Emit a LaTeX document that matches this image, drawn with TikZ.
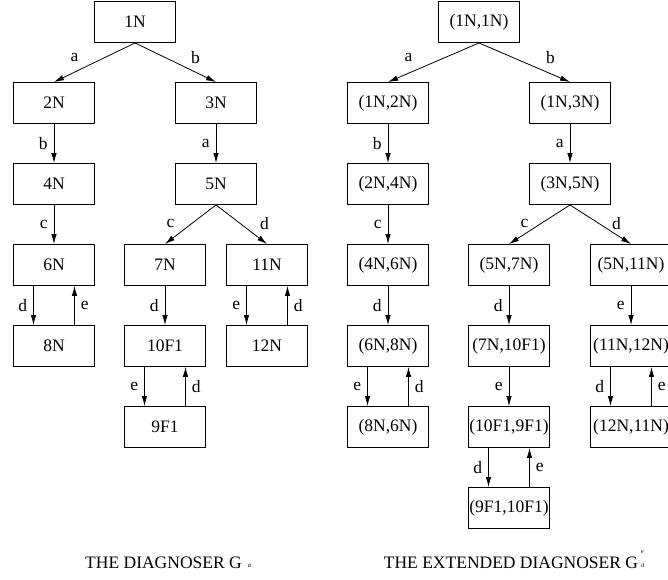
\documentclass[tikz,border=0pt]{standalone}
\usepackage{fontspec}
\setmainfont{Liberation Serif}
\usetikzlibrary{arrows.meta}
\newcommand{\tinyidx}[1]{{\fontsize{6}{6}\selectfont #1}}
\begin{document}
\begin{tikzpicture}[x=1pt,y=-1pt,
  every node/.style={font=\fontsize{17.5}{20}\selectfont},
  state/.style={draw,line width=0.9pt,minimum width=81pt,minimum height=41pt,inner sep=0pt},
  edge/.style={line width=0.8pt,-{Latex[length=10pt,width=5.5pt]}},
  lab/.style={inner sep=0pt},
  caption/.style={font=\fontsize{17.5}{20}\selectfont,anchor=base}]
\useasboundingbox (0,0) rectangle (668,579);

% ---- the diagnoser ----
\node[state] (n1)  at (135,22)  {1N};
\node[state] (n2)  at (54,103)  {2N};
\node[state] (n3)  at (216,103) {3N};
\node[state] (n4)  at (54,184)  {4N};
\node[state] (n5)  at (216,184) {5N};
\node[state] (n6)  at (54,265)  {6N};
\node[state] (n7)  at (165,265) {7N};
\node[state] (n11) at (267,265) {11N};
\node[state] (n8)  at (54,346)  {8N};
\node[state] (n10) at (165,346) {10F1};
\node[state] (n12) at (267,346) {12N};
\node[state] (n9)  at (165,427) {9F1};

\draw[edge] (n1.south) -- node[lab,midway,xshift=-20pt,yshift=5pt]{a} (n2.north);
\draw[edge] (n1.south) -- node[lab,midway,xshift=20pt,yshift=5pt]{b} (n3.north);
\draw[edge] (n2) -- node[lab,midway,left=6pt]{b} (n4);
\draw[edge] (n3) -- node[lab,midway,left=6pt]{a} (n5);
\draw[edge] (n4) -- node[lab,midway,left=6pt]{c} (n6);
\draw[edge] (n5.south) -- node[lab,midway,xshift=-20pt,yshift=1pt]{c} (n7.north);
\draw[edge] (n5.south) -- node[lab,midway,xshift=23pt,yshift=1pt]{d} (n11.north);
\draw[edge] ([xshift=-20.5pt]n6.south) -- node[lab,midway,left=6pt]{d} ([xshift=-20.5pt]n8.north);
\draw[edge] ([xshift=20.5pt]n8.north) -- node[lab,midway,right=6pt]{e} ([xshift=20.5pt]n6.south);
\draw[edge] (n7) -- node[lab,midway,left=6pt]{d} (n10);
\draw[edge] ([xshift=-20.5pt]n11.south) -- node[lab,midway,left=6pt]{e} ([xshift=-20.5pt]n12.north);
\draw[edge] ([xshift=20.5pt]n12.north) -- node[lab,midway,right=6pt]{d} ([xshift=20.5pt]n11.south);
\draw[edge] ([xshift=-20.5pt]n10.south) -- node[lab,midway,left=6pt]{e} ([xshift=-20.5pt]n9.north);
\draw[edge] ([xshift=20.5pt]n9.north) -- node[lab,midway,right=6pt]{d} ([xshift=20.5pt]n10.south);

\node[caption] (cap1) at (168,568) {THE DIAGNOSER G\hspace{6pt}\raisebox{0.5pt}{\tinyidx{d}}};

% ---- the extended diagnoser ----
\node[state] (r11)   at (479,22)  {(1N,1N)};
\node[state] (r12)   at (388,103) {(1N,2N)};
\node[state] (r13)   at (570,103) {(1N,3N)};
\node[state] (r24)   at (388,184) {(2N,4N)};
\node[state] (r35)   at (570,184) {(3N,5N)};
\node[state] (r46)   at (388,265) {(4N,6N)};
\node[state] (r57)   at (509,265) {(5N,7N)};
\node[state] (r511)  at (631,265) {(5N,11N)};
\node[state] (r68)   at (388,346) {(6N,8N)};
\node[state] (r710)  at (509,346) {(7N,10F1)};
\node[state] (r1112) at (631,346) {(11N,12N)};
\node[state] (r86)   at (388,427) {(8N,6N)};
\node[state] (r109)  at (509,427) {(10F1,9F1)};
\node[state] (r1211) at (631,427) {(12N,11N)};
\node[state] (r910)  at (509,508) {(9F1,10F1)};

\draw[edge] (r11.south) -- node[lab,midway,xshift=-25pt,yshift=5pt]{a} (r12.north);
\draw[edge] (r11.south) -- node[lab,midway,xshift=26pt,yshift=5pt]{b} (r13.north);
\draw[edge] (r12) -- node[lab,midway,left=6pt]{b} (r24);
\draw[edge] (r13) -- node[lab,midway,left=6pt]{a} (r35);
\draw[edge] (r24) -- node[lab,midway,left=6pt]{c} (r46);
\draw[edge] (r46) -- node[lab,midway,left=6pt]{d} (r68);
\draw[edge] (r35.south) -- node[lab,midway,xshift=-15pt,yshift=1pt]{c} (r57.north);
\draw[edge] (r35.south) -- node[lab,midway,xshift=16pt,yshift=1pt]{d} (r511.north);
\draw[edge] (r57) -- node[lab,midway,left=6pt]{d} (r710);
\draw[edge] (r710) -- node[lab,midway,left=6pt]{e} (r109);
\draw[edge] (r511) -- node[lab,midway,left=6pt]{e} (r1112);
\draw[edge] ([xshift=-20.5pt]r68.south) -- node[lab,midway,left=6pt]{e} ([xshift=-20.5pt]r86.north);
\draw[edge] ([xshift=20.5pt]r86.north) -- node[lab,midway,right=6pt]{d} ([xshift=20.5pt]r68.south);
\draw[edge] ([xshift=-20.5pt]r1112.south) -- node[lab,midway,left=6pt]{d} ([xshift=-20.5pt]r1211.north);
\draw[edge] ([xshift=20.5pt]r1211.north) -- node[lab,midway,right=6pt]{e} ([xshift=20.5pt]r1112.south);
\draw[edge] ([xshift=-20.5pt]r109.south) -- node[lab,midway,left=6pt]{d} ([xshift=-20.5pt]r910.north);
\draw[edge] ([xshift=20.5pt]r910.north) -- node[lab,midway,right=6pt]{e} ([xshift=20.5pt]r109.south);

\node[caption] (cap2) at (514,568) {THE EXTENDED DIAGNOSER G\hspace{3pt}\rlap{\raisebox{15pt}{\tinyidx{e}}}\raisebox{1pt}{\tinyidx{d}}};
\end{tikzpicture}
\end{document}
